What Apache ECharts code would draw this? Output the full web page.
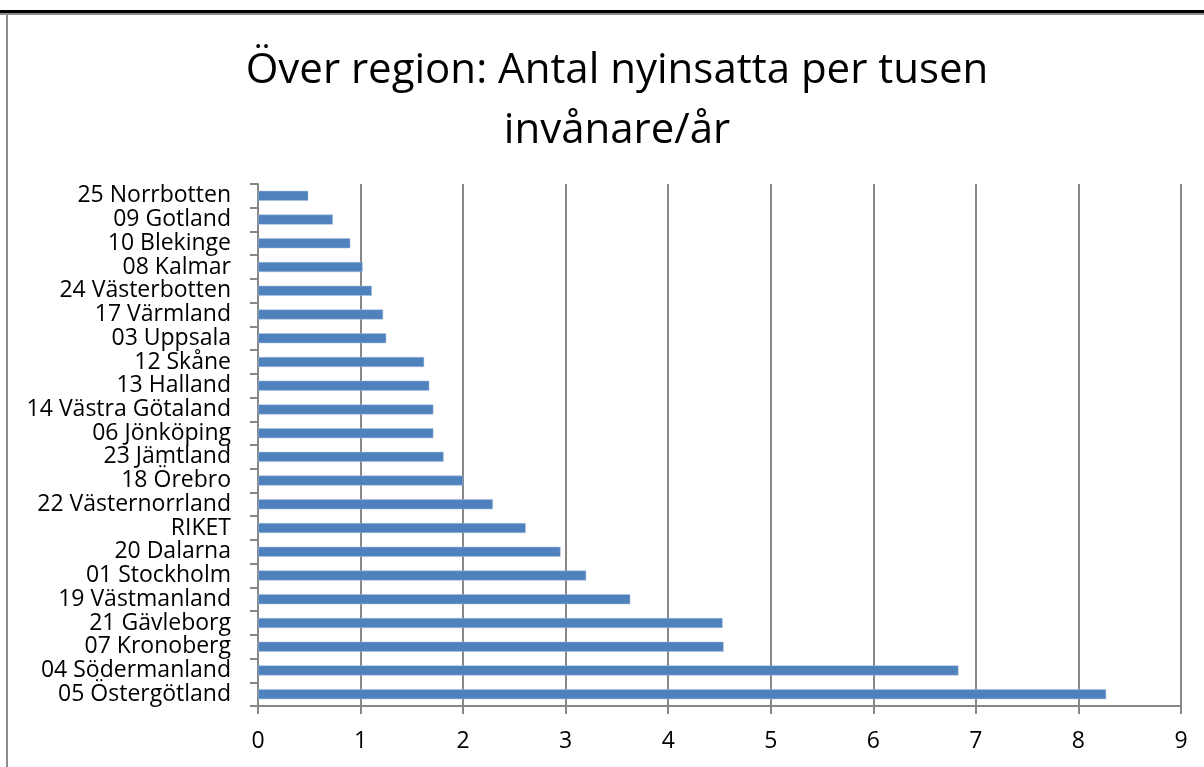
<!DOCTYPE html>
<html>
<head>
<meta charset="utf-8">
<script src="https://cdn.jsdelivr.net/npm/echarts@6/dist/echarts.min.js"></script>
<style>
  html, body { margin: 0; padding: 0; background: #fff; }
  #chart { width: 1204px; height: 767px; }
</style>
</head>
<body>
<div id="chart"></div>
<script>
// regioner, uppifrån och ned som i bilden
var regions = ['25 Norrbotten', '09 Gotland', '10 Blekinge', '08 Kalmar', '24 Västerbotten',
  '17 Värmland', '03 Uppsala', '12 Skåne', '13 Halland', '14 Västra Götaland', '06 Jönköping',
  '23 Jämtland', '18 Örebro', '22 Västernorrland', 'RIKET', '20 Dalarna', '01 Stockholm',
  '19 Västmanland', '21 Gävleborg', '07 Kronoberg', '04 Södermanland', '05 Östergötland'];
var perTusen = [0.49, 0.73, 0.90, 1.02, 1.11, 1.22, 1.25, 1.62, 1.67, 1.71, 1.71,
  1.81, 2.00, 2.29, 2.61, 2.95, 3.20, 3.63, 4.53, 4.54, 6.83, 8.27];
var xTicks = [0, 1, 2, 3, 4, 5, 6, 7, 8, 9];

var font = '"Open Sans", sans-serif';
var gray = '#878787';

var myChart = echarts.init(document.getElementById('chart'));
var option = {
    backgroundColor: '#fff',
    animation: false,
    title: {
        text: 'Över region: Antal nyinsatta per tusen\ninvånare/år',
        left: 612,
        textAlign: 'center',
        top: 36,
        textStyle: {
            fontFamily: font,
            fontSize: 42,
            fontWeight: 'normal',
            color: '#000',
            lineHeight: 60
        }
    },
    graphic: [
        { type: 'rect', shape: { x: 0, y: 10, width: 1204, height: 3 }, style: { fill: '#000' }, silent: true },
        { type: 'rect', shape: { x: 0, y: 13, width: 1204, height: 2 }, style: { fill: '#8c8c8c' }, silent: true },
        { type: 'rect', shape: { x: 6, y: 13, width: 2, height: 760 }, style: { fill: '#8c8c8c' }, silent: true }
    ],
    grid: {
        left: 258,
        right: 23,
        top: 184,
        bottom: 61,
        containLabel: false
    },
    xAxis: {
        type: 'value',
        min: xTicks[0],
        max: xTicks[xTicks.length - 1],
        interval: 1,
        axisLine: { show: true, lineStyle: { color: gray, width: 2 } },
        axisTick: { show: true, length: 8, lineStyle: { color: gray, width: 2 } },
        splitLine: { show: true, lineStyle: { color: gray, width: 2 } },
        axisLabel: { margin: 24, color: '#000', fontFamily: font, fontSize: 23 }
    },
    yAxis: {
        type: 'category',
        inverse: true,
        data: regions,
        axisLine: { show: true, lineStyle: { color: gray, width: 2 } },
        axisTick: { show: true, length: 8, lineStyle: { color: gray, width: 2 } },
        axisLabel: { margin: 27, color: '#000', fontFamily: font, fontSize: 23, interval: 0 }
    },
    series: [{
        name: 'Antal nyinsatta per tusen invånare/år',
        type: 'bar',
        data: perTusen,
        barWidth: 10,
        itemStyle: { color: '#4F81BD', borderColor: '#a9c0de', borderWidth: 0.5 }
    }]
};
myChart.setOption(option);
</script>
</body>
</html>
